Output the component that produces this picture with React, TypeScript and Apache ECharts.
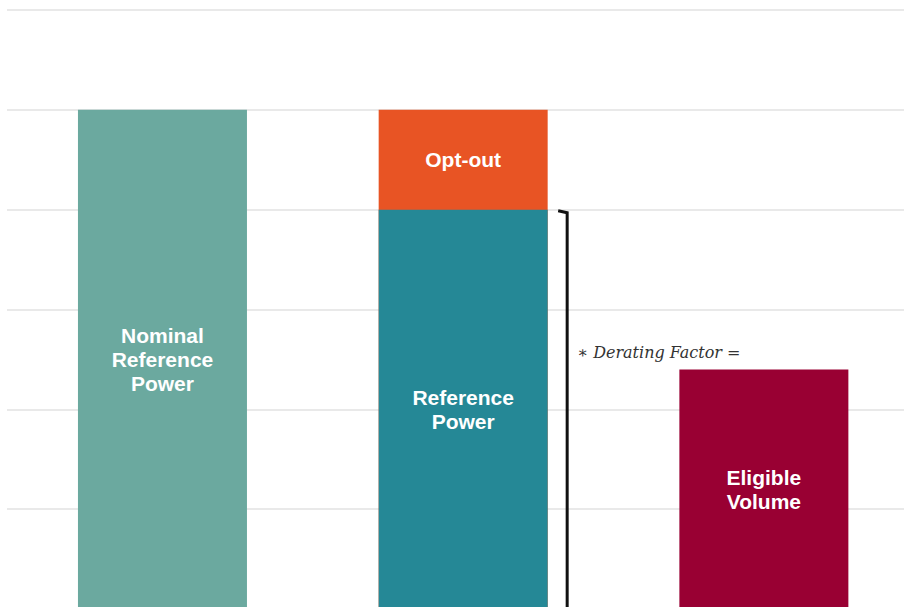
import React, { useEffect, useRef } from "react";
import * as echarts from "echarts";

const categories = ["Nominal Reference Power", "Reference Power", "Eligible Volume"];
const barLabels = ["Nominal\nReference\nPower", "Reference\nPower", "Eligible\nVolume"];
const baseValues = [5, 4, 2.4];
const optOutValues = [0, 1, 0];
const optOutLabel = "Opt-out";
const baseColors = ["#6BA99F", "#258896", "#990033"];
const optOutColor = "#E85424";
const annotationText = "∗ Derating Factor =";

export default function App() {
  const ref = useRef<HTMLDivElement>(null);
  useEffect(() => {
    if (!ref.current) return;
    const chart = echarts.init(ref.current, null, { renderer: "svg" });
    const labelStyle = {
      show: true,
      color: "#ffffff",
      fontFamily: "'Liberation Sans', Arial, sans-serif",
      fontWeight: "bold" as const,
      fontSize: 21,
      lineHeight: 24,
    };
    const totals = baseValues.map((v, i) => v + optOutValues[i]);
    const build = (optPos: any) => ({
      animation: false,
      grid: { left: 7, right: 0, top: 10, height: 599 },
      xAxis: {
        type: "value",
        min: -0.517,
        max: 2.466,
        show: false,
        splitLine: { show: false },
      },
      yAxis: {
        type: "value",
        min: 0,
        max: 6,
        interval: 1,
        axisLabel: { show: false },
        axisLine: { show: false },
        axisTick: { show: false },
        splitLine: { show: true, lineStyle: { color: "#e9e9e9", width: 2 } },
      },
      series: [
        {
          name: "optout",
          type: "bar",
          barWidth: 169,
          barGap: "-100%",
          z: 1,
          data: totals.map((t, i) =>
            optOutValues[i] > 0 ? { value: [i, t], name: categories[i] } : { value: [i, null] }
          ),
          itemStyle: { color: optOutColor },
          label: {
            ...labelStyle,
            position: optPos,
            align: "center",
            verticalAlign: "middle",
            formatter: () => optOutLabel,
          },
        },
        {
          name: "base",
          type: "bar",
          barWidth: 169,
          barGap: "-100%",
          z: 2,
          data: baseValues.map((v, i) => ({
            value: [i, v],
            name: categories[i],
            itemStyle: { color: baseColors[i] },
          })),
          label: { ...labelStyle, position: "inside", formatter: (p: any) => barLabels[p.dataIndex] },
        },
      ],
    });
    chart.setOption(build("inside"));
    const pTop = chart.convertToPixel({ gridIndex: 0 }, [1, totals[1]]) as number[];
    const pBase = chart.convertToPixel({ gridIndex: 0 }, [1, baseValues[1]]) as number[];
    const segH = pBase[1] - pTop[1];
    chart.setOption(build(["50%", segH / 2]));
    const bx = pBase[0] + 104;
    const by = pBase[1] + 2;
    const ty = (chart.convertToPixel({ gridIndex: 0 }, [1, 2.57]) as number[])[1];
    chart.setOption({
      graphic: [
        {
          type: "polyline",
          shape: { points: [[bx - 9, by - 1], [bx, by + 1], [bx, 700]] },
          style: { stroke: "#111", lineWidth: 3, fill: null },
        },
        {
          type: "text",
          x: bx + 10,
          y: ty,
          style: {
            text: annotationText,
            fill: "#333",
            font: "italic 16px 'DejaVu Serif', serif",
            textVerticalAlign: "middle",
          },
        },
      ],
    });
    return () => chart.dispose();
  }, []);
  return (
    <div style={{ position: "fixed", left: 0, top: 0, width: 904, height: 607, overflow: "hidden", background: "#fff" }}>
      <div ref={ref} style={{ position: "absolute", left: 0, top: 0, width: 904, height: 700 }} />
    </div>
  );
}
